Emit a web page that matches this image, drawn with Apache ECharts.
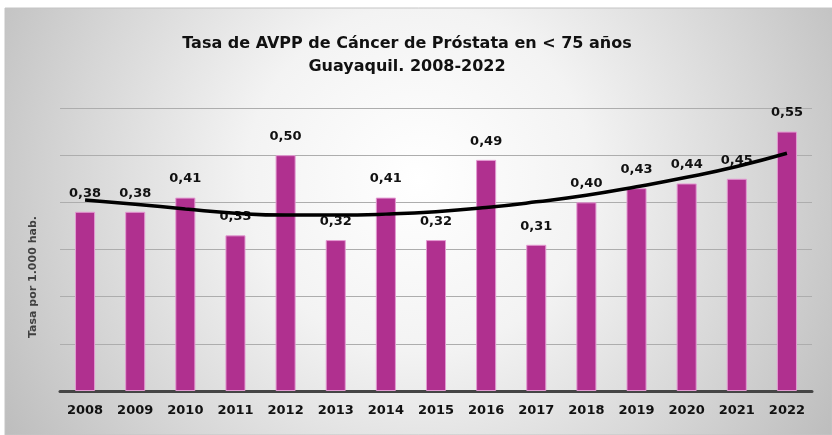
<!DOCTYPE html>
<html>
<head>
<meta charset="utf-8">
<script src="https://cdn.jsdelivr.net/npm/echarts@6/dist/echarts.min.js"></script>
<style>
html,body{margin:0;padding:0;background:#ffffff;}
#chart{width:832px;height:435px;}
</style>
</head>
<body>
<div id="chart"></div>
<script>
const years = ['2008','2009','2010','2011','2012','2013','2014','2015','2016','2017','2018','2019','2020','2021','2022'];
const rates = [0.38,0.38,0.41,0.33,0.50,0.32,0.41,0.32,0.49,0.31,0.40,0.43,0.44,0.45,0.55];
const trend = [0.405,0.396,0.386,0.377,0.373,0.373,0.375,0.380,0.389,0.401,0.415,0.433,0.453,0.476,0.504];
const titleText = 'Tasa de AVPP de Cáncer de Próstata en < 75 años\nGuayaquil. 2008-2022';
const yName = 'Tasa por 1.000 hab.';

const chart = echarts.init(document.getElementById('chart'));
const FONT = 'DejaVu Sans';
chart.setOption({
  animation: false,
  graphic: [{
    type: 'rect',
    z: -10,
    silent: true,
    shape: {x: 5, y: 8, width: 827, height: 427},
    style: {
      fill: new echarts.graphic.RadialGradient(0.5, 0.4, 1.15, [
        {offset: 0, color: '#ffffff'},
        {offset: 0.35, color: '#f3f3f3'},
        {offset: 0.7, color: '#d6d6d6'},
        {offset: 1, color: '#bcbcbc'}
      ]),
      stroke: '#c4c4c4',
      lineWidth: 1
    }
  }, {
    type: 'text',
    x: 33,
    y: 277,
    rotation: Math.PI / 2,
    silent: true,
    style: {
      text: yName,
      align: 'center',
      verticalAlign: 'middle',
      fontFamily: FONT, fontSize: 11, fontWeight: 'bold', fill: '#404040'
    }
  }],
  title: {
    text: titleText,
    left: 402,
    top: 27,
    textAlign: 'center',
    textStyle: {fontFamily: FONT, fontSize: 16, fontWeight: 'bold', color: '#111', lineHeight: 23}
  },
  grid: {left: 60, right: 20, top: 108, bottom: 44},
  xAxis: {
    type: 'category',
    data: years,
    axisLine: {lineStyle: {color: '#454545', width: 3}},
    axisTick: {show: false},
    axisLabel: {fontFamily: FONT, fontSize: 13, fontWeight: 'bold', color: '#111', margin: 13}
  },
  yAxis: {
    type: 'value',
    min: 0, max: 0.6, interval: 0.1,
    axisLabel: {show: false},
    axisLine: {show: false},
    axisTick: {show: false},
    splitLine: {lineStyle: {color: '#adadad', width: 1}}
  },
  series: [{
    type: 'bar',
    data: rates,
    barWidth: '40%',
    z: 2,
    itemStyle: {color: '#b0308f', borderColor: '#e39ad2', borderWidth: 1},
    label: {
      show: true,
      position: 'top',
      distance: 12,
      fontFamily: FONT, fontSize: 13, fontWeight: 'bold', color: '#111',
      formatter: p => p.value.toFixed(2).replace('.', ',')
    }
  }, {
    type: 'line',
    data: trend,
    z: 5,
    smooth: true,
    symbol: 'none',
    lineStyle: {color: '#000', width: 3.5}
  }]
});
</script>
</body>
</html>
